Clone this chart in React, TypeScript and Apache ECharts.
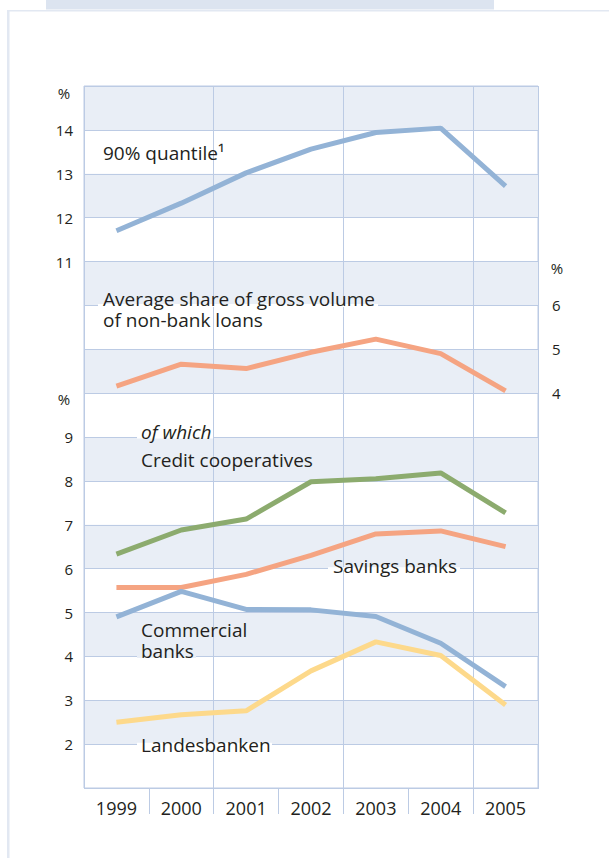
import React, { useEffect, useRef } from "react";
import * as echarts from "echarts";

// ---- data ----
const years = ["1999", "2000", "2001", "2002", "2003", "2004", "2005"];
const quantile90 = [11.7, 12.33, 13.02, 13.56, 13.94, 14.04, 12.72];
const avgShare = [4.16, 4.66, 4.56, 4.93, 5.23, 4.9, 4.05];
const creditCoops = [6.33, 6.88, 7.13, 7.98, 8.05, 8.18, 7.27];
const savingsBanks = [5.57, 5.57, 5.87, 6.3, 6.79, 6.86, 6.5];
const commercialBanks = [4.9, 5.48, 5.07, 5.06, 4.91, 4.3, 3.31];
const landesbanken = [2.5, 2.67, 2.76, 3.67, 4.33, 4.02, 2.89];

const topTickLabels = [11, 12, 13, 14];
const middleTickLabels = [4, 5, 6];
const bottomTickLabels = [2, 3, 4, 5, 6, 7, 8, 9];

// ---- layout / style ----
const W = 609;
const H = 858;
const GL = 84;
const GT = 86;
const GW = 454;
const GH = 702;
const UNIT = GH / 16;
const FONT = "'Open Sans', 'Noto Sans', sans-serif";
const TXT = "#231f20";
const GRIDC = "#bccbe4";
const BAND = "#e9eef6";
const BLUE = "#93b3d6";
const ORANGE = "#f5a482";
const GREEN = "#8cab6e";
const YELLOW = "#fdd98b";

// bottom axis: min 1 .. max 17
const yB = (v: number) => GT + (17 - v) * UNIT;

export default function App() {
  const ref = useRef<HTMLDivElement>(null);
  useEffect(() => {
    if (!ref.current) return;
    const chart = echarts.init(ref.current, undefined, { renderer: "svg" });

    const lineSeries = (name: string, data: number[], color: string, yAxisIndex: number) => ({
      name,
      type: "line",
      data,
      yAxisIndex,
      xAxisIndex: 0,
      symbol: "none",
      showSymbol: false,
      lineStyle: { width: 5, color },
      itemStyle: { color },
      z: 2,
    });

    const gap = (x1: number, x2: number, y: number, fill: string) => ({
      type: "rect",
      z: 1,
      shape: { x: x1, y: y - 1.5, width: x2 - x1, height: 3 },
      style: { fill },
    });

    const label = (text: string, x: number, y: number, extra: any = {}) => ({
      type: "text",
      z: 5,
      x,
      y,
      style: {
        text,
        fill: TXT,
        fontSize: 19,
        fontFamily: FONT,
        verticalAlign: "middle",
        lineHeight: 19,
        ...extra,
      },
    });

    const pct = (x: number, y: number) =>
      label("%", x, y, { fontSize: 15, lineHeight: 15, align: "center" });

    chart.setOption({
      animation: false,
      backgroundColor: "#ffffff",
      textStyle: { fontFamily: FONT },
      grid: {
        left: GL,
        top: GT,
        width: GW,
        height: GH,
        show: true,
        borderColor: GRIDC,
        borderWidth: 1,
        backgroundColor: "transparent",
        containLabel: false,
      },
      xAxis: {
        type: "category",
        data: years,
        boundaryGap: true,
        position: "bottom",
        axisLine: { show: false, onZero: false },
        axisTick: {
          show: true,
          length: 26,
          interval: 0,
          lineStyle: { color: GRIDC, width: 1 },
        },
        axisLabel: { fontSize: 18, color: TXT, margin: 11, fontFamily: FONT },
        splitLine: { show: true, interval: 1, lineStyle: { color: GRIDC, width: 1 } },
      },
      yAxis: [
        {
          type: "value",
          min: 1,
          max: 17,
          interval: 1,
          position: "left",
          axisLine: { show: false, onZero: false },
          axisTick: { show: false },
          axisLabel: {
            fontSize: 15,
            color: TXT,
            margin: 11,
            fontFamily: FONT,
            formatter: (v: number) => (bottomTickLabels.includes(v) ? String(v) : ""),
          },
          splitLine: { show: true, lineStyle: { color: GRIDC, width: 1 } },
          splitArea: { show: true, areaStyle: { color: ["rgba(255,255,255,0)", BAND] } },
        },
        {
          type: "value",
          min: -1,
          max: 15,
          interval: 1,
          position: "left",
          axisLine: { show: false, onZero: false },
          axisTick: { show: false },
          axisLabel: {
            fontSize: 15,
            color: TXT,
            margin: 11,
            fontFamily: FONT,
            formatter: (v: number) => (topTickLabels.includes(v) ? String(v) : ""),
          },
          splitLine: { show: false },
          splitArea: { show: false },
        },
        {
          type: "value",
          min: -5,
          max: 11,
          interval: 1,
          position: "right",
          axisLine: { show: false, onZero: false },
          axisTick: { show: false },
          axisLabel: {
            fontSize: 15,
            color: TXT,
            margin: 14,
            fontFamily: FONT,
            formatter: (v: number) => (middleTickLabels.includes(v) ? String(v) : ""),
          },
          splitLine: { show: false },
          splitArea: { show: false },
        },
      ],
      series: [
        lineSeries("90% quantile", quantile90, BLUE, 1),
        lineSeries("Average share", avgShare, ORANGE, 2),
        lineSeries("Credit cooperatives", creditCoops, GREEN, 0),
        lineSeries("Savings banks", savingsBanks, ORANGE, 0),
        lineSeries("Commercial banks", commercialBanks, BLUE, 0),
        lineSeries("Landesbanken", landesbanken, YELLOW, 0),
      ],
      graphic: [
        // page frame decorations
        { type: "rect", z: 0, shape: { x: 46, y: 0, width: 448, height: 9.5 }, style: { fill: "#dce4f0" } },
        { type: "rect", z: 0, shape: { x: 7, y: 10, width: W - 7, height: 1.5 }, style: { fill: "#e2e8f2" } },
        { type: "rect", z: 0, shape: { x: 7, y: 10, width: 2.5, height: H - 10 }, style: { fill: "#e2e8f2" } },
        // hide the outer tick marks below the plot corners
        { type: "rect", z: 1, shape: { x: GL - 2, y: GT + GH + 1, width: 4, height: 28 }, style: { fill: "#ffffff" } },
        { type: "rect", z: 1, shape: { x: GL + GW - 2, y: GT + GH + 1, width: 4, height: 28 }, style: { fill: "#ffffff" } },
        // gaps in gridlines behind annotations
        gap(98, 378, yB(12), "#ffffff"),
        gap(137, 213, yB(9), "#ffffff"),
        gap(328, 460, yB(6), "#ffffff"),
        gap(137, 196, yB(4), BAND),
        gap(137, 272, yB(2), "#ffffff"),
        // percent signs
        pct(64, GT + 7),
        pct(64, yB(10) + 6),
        pct(557, yB(13) + 6),
        // annotations
        label("90% quantile\u00b9", 103, 153),
        label("Average share of gross volume", 103, 299),
        label("of non-bank loans", 103, 320),
        label("of which", 141, 432, { fontStyle: "italic" }),
        label("Credit cooperatives", 141, 460),
        label("Savings banks", 333, 566),
        label("Commercial", 141, 630),
        label("banks", 141, 651),
        label("Landesbanken", 141, 745),
      ],
    });
    return () => chart.dispose();
  }, []);
  return (
    <div
      ref={ref}
      style={{ position: "fixed", left: 0, top: 0, width: W, height: H, background: "#fff" }}
    />
  );
}
